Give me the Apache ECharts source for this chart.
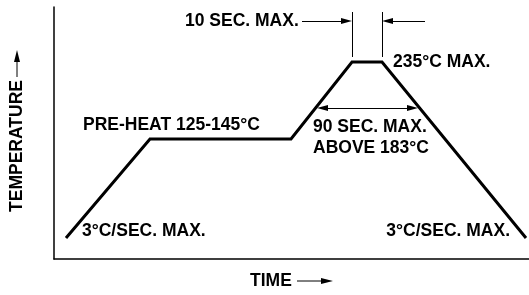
<!DOCTYPE html>
<html>
<head>
<meta charset="utf-8">
<style>
  html, body { margin: 0; padding: 0; background: #fff; }
  #chart { width: 529px; height: 295px; }
</style>
<script src="https://cdn.jsdelivr.net/npm/echarts@6/dist/echarts.min.js"></script>
</head>
<body>
<div id="chart"></div>
<script>
// reflow profile, schematic units (no scale shown on the axes)
var timeVals = [12, 96, 237, 298, 328, 472];
var tempVals = [21, 120, 120, 197, 197, 21];

// 10 s window at the peak
var peakEdges = [298, 328];
var peakMarkLow = 202, peakMarkHigh = 247;
var tenSecY = 238;
var tenSecLeftFrom = 248, tenSecRightFrom = 371;

// 90 s above 183 C (arrow tips on the ramps)
var aboveY = 151;
var aboveFrom = 263, aboveTo = 364;

var FONT = '"Liberation Sans", Arial, sans-serif';
var HEAD = 11; // arrow head length (1 unit = 1px here)

var myChart = echarts.init(document.getElementById('chart'));

var profile = [];
for (var i = 0; i < timeVals.length; i++) profile.push([timeVals[i], tempVals[i]]);

function txt(x, y, s, align) {
  return {
    type: 'text', x: x, y: y,
    style: { text: s, fill: '#000', font: 'bold 17.5px ' + FONT, textAlign: align || 'left', textVerticalAlign: 'middle' }
  };
}

var h = HEAD / 2;
var option = {
  animation: false,
  grid: { left: 54, right: 0, top: 7, bottom: 36 },
  xAxis: {
    type: 'value', min: 0, max: 475,
    axisLine: { show: true, lineStyle: { color: '#000', width: 1.5 } },
    axisTick: { show: false }, axisLabel: { show: false }, splitLine: { show: false }
  },
  yAxis: {
    type: 'value', min: 0, max: 252,
    axisLine: { show: true, lineStyle: { color: '#000', width: 1.5 } },
    axisTick: { show: false }, axisLabel: { show: false }, splitLine: { show: false }
  },
  series: [
    {
      type: 'line',
      data: profile,
      symbol: 'none',
      lineStyle: { color: '#000', width: 3, join: 'miter' },
      markLine: {
        silent: true,
        label: { show: false },
        lineStyle: { color: '#000', width: 1, type: 'solid' },
        symbolSize: [6, HEAD],
        data: [
          [{ coord: [peakEdges[0], peakMarkLow], symbol: 'none' }, { coord: [peakEdges[0], peakMarkHigh], symbol: 'none' }],
          [{ coord: [peakEdges[1], peakMarkLow], symbol: 'none' }, { coord: [peakEdges[1], peakMarkHigh], symbol: 'none' }],
          [{ coord: [tenSecLeftFrom, tenSecY], symbol: 'none' }, { coord: [peakEdges[0] - h, tenSecY], symbol: 'triangle' }],
          [{ coord: [tenSecRightFrom, tenSecY], symbol: 'none' }, { coord: [peakEdges[1] + h, tenSecY], symbol: 'triangle' }],
          [{ coord: [aboveFrom + h, aboveY], symbol: 'triangle' }, { coord: [aboveTo - h, aboveY], symbol: 'triangle' }]
        ]
      }
    }
  ],
  graphic: [
    txt(185, 21, '10 SEC. MAX.'),
    txt(393, 62, '235°C MAX.'),
    txt(83, 125, 'PRE-HEAT 125-145°C'),
    txt(313, 127, '90 SEC. MAX.'),
    txt(313, 148, 'ABOVE 183°C'),
    txt(82, 231, '3°C/SEC. MAX.'),
    txt(510, 231, '3°C/SEC. MAX.', 'right'),
    txt(250, 281, 'TIME'),
    { type: 'line', shape: { x1: 297, y1: 281, x2: 324, y2: 281 }, style: { stroke: '#000', lineWidth: 1 } },
    { type: 'polygon', shape: { points: [[333, 281], [321, 278], [321, 284]] }, style: { fill: '#000' } },
    {
      type: 'text', x: 17, y: 146, rotation: Math.PI / 2,
      style: { text: 'TEMPERATURE', fill: '#000', font: 'bold 17.5px ' + FONT, textAlign: 'center', textVerticalAlign: 'middle' }
    },
    { type: 'line', shape: { x1: 17, y1: 77, x2: 17, y2: 60 }, style: { stroke: '#000', lineWidth: 1 } },
    { type: 'polygon', shape: { points: [[17, 50], [14, 62], [20, 62]] }, style: { fill: '#000' } }
  ]
};

myChart.setOption(option);
window.addEventListener('resize', function () { myChart.resize(); });
</script>
</body>
</html>
